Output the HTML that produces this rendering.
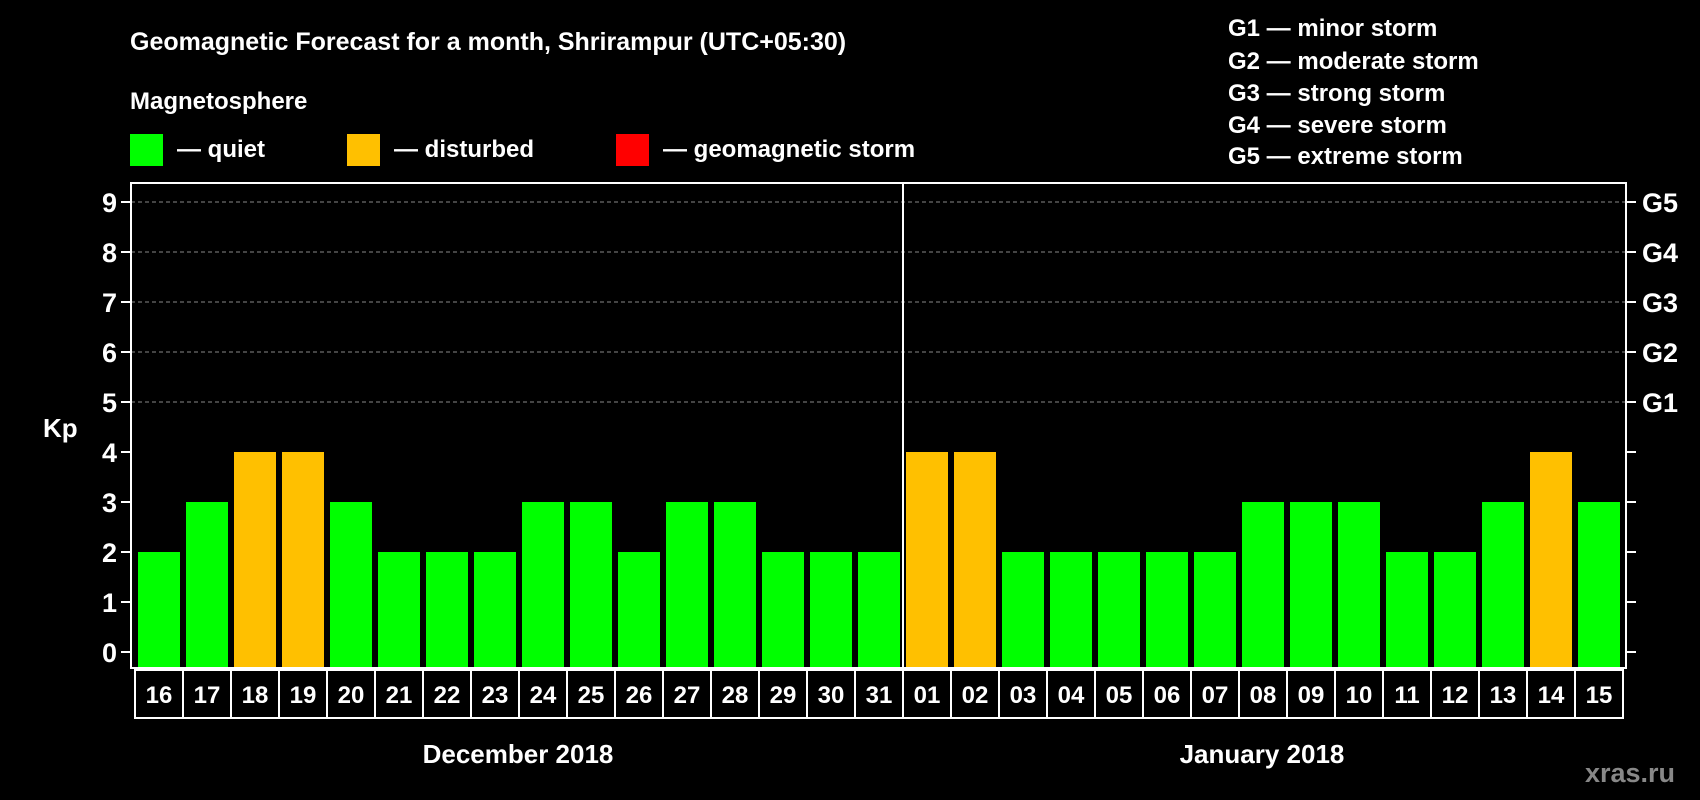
<!DOCTYPE html>
<html><head><meta charset="utf-8"><style>
html,body{margin:0;padding:0;background:#000;}
svg{display:block;font-family:"Liberation Sans",Arial,sans-serif;font-weight:bold;}
</style></head><body>
<svg id="chart" width="1700" height="800" viewBox="0 0 1700 800" xmlns="http://www.w3.org/2000/svg">
<text x="130" y="50" fill="#fff" font-size="25">Geomagnetic Forecast for a month, Shrirampur (UTC+05:30)</text>
<text x="130" y="109" fill="#fff" font-size="24">Magnetosphere</text>
<rect x="130" y="134" width="33" height="32" fill="#00ff00"/>
<text x="177" y="157" fill="#fff" font-size="24">— quiet</text>
<rect x="347" y="134" width="33" height="32" fill="#ffc000"/>
<text x="394" y="157" fill="#fff" font-size="24">— disturbed</text>
<rect x="616" y="134" width="33" height="32" fill="#ff0000"/>
<text x="663" y="157" fill="#fff" font-size="24">— geomagnetic storm</text>
<g fill="#fff" font-size="24">
<text x="1228" y="36">G1 — minor storm</text>
<text x="1228" y="69">G2 — moderate storm</text>
<text x="1228" y="101">G3 — strong storm</text>
<text x="1228" y="133">G4 — severe storm</text>
<text x="1228" y="164">G5 — extreme storm</text>
</g>
<text x="43" y="437" fill="#fff" font-size="26">Kp</text>
<g id="grid"></g>
<g id="bars"></g>
<g id="axes"></g>
<text x="518" y="763" fill="#fff" font-size="26" text-anchor="middle">December 2018</text>
<text x="1262" y="763" fill="#fff" font-size="26" text-anchor="middle">January 2018</text>
<text x="1675" y="782" fill="#888" font-size="27" text-anchor="end">xras.ru</text>
</svg>
<script>
const days = ["16","17","18","19","20","21","22","23","24","25","26","27","28","29","30","31","01","02","03","04","05","06","07","08","09","10","11","12","13","14","15"].slice(0,31);
const dayLabels = ["16","17","18","19","20","21","22","23","24","25","26","27","28","29","30","31","01","02","03","04","05","06","07","08","09","10","11","12","13","14","15"];
const kpValues = [2,3,4,4,3,2,2,2,3,3,2,3,3,2,2,2,4,4,2,2,2,2,2,3,3,3,2,2,3,4,3];
const yTicks = [0,1,2,3,4,5,6,7,8,9];
const gLabels = ["G1","G2","G3","G4","G5"];
const gLevels = [5,6,7,8,9];

const NS="http://www.w3.org/2000/svg";
const L=131,R=1626,T=183,B=668,divX=903;
function y(v){return 652-v*50;}
function x(i){return i<16 ? 138+i*48 : 906+(i-16)*48;}
function mk(t,a,p){const e=document.createElementNS(NS,t);for(const k in a)e.setAttribute(k,a[k]);p.appendChild(e);return e;}
const grid=document.getElementById('grid'),bars=document.getElementById('bars'),axes=document.getElementById('axes');
gLevels.forEach(function(v){
  const ln=mk('line',{x1:L,x2:R,y1:y(v),y2:y(v),stroke:'#888','stroke-width':1,'stroke-dasharray':'4,3'},grid);
  
  
});
dayLabels.forEach(function(d,i){
  const v=kpValues[i];
  const c=v>=5?'#ff0000':(v>=4?'#ffc000':'#00ff00');
  const r=mk('rect',{x:x(i),y:y(v),width:42,height:B-y(v),fill:c},bars);
  
  
  const b=mk('rect',{x:x(i)-3,y:B+2,width:48,height:48,fill:'none',stroke:'#fff','stroke-width':2},axes);
  
  
  const t=mk('text',{x:x(i)+21,y:B+35,fill:'#fff','font-size':24,'text-anchor':'middle'},axes);
  t.textContent=d;
  
  
});
const fr=mk('rect',{x:L,y:T,width:R-L,height:B-T,fill:'none',stroke:'#fff','stroke-width':2},axes);


const dv=mk('line',{x1:divX,x2:divX,y1:T,y2:B,stroke:'#fff','stroke-width':2},axes);


yTicks.forEach(function(v){
  const tk=mk('line',{x1:121,x2:L,y1:y(v),y2:y(v),stroke:'#fff','stroke-width':2},axes);
  
  
  const tr=mk('line',{x1:R,x2:R+10,y1:y(v),y2:y(v),stroke:'#fff','stroke-width':2},axes);
  
  
  const t=mk('text',{x:117,y:y(v)+10,fill:'#fff','font-size':27,'text-anchor':'end'},axes);
  t.textContent=v;
  
  
});
gLabels.forEach(function(g,i){
  const t=mk('text',{x:1642,y:y(gLevels[i])+10,fill:'#fff','font-size':27},axes);
  t.textContent=g;
  
  
});
</script>
</body></html>
